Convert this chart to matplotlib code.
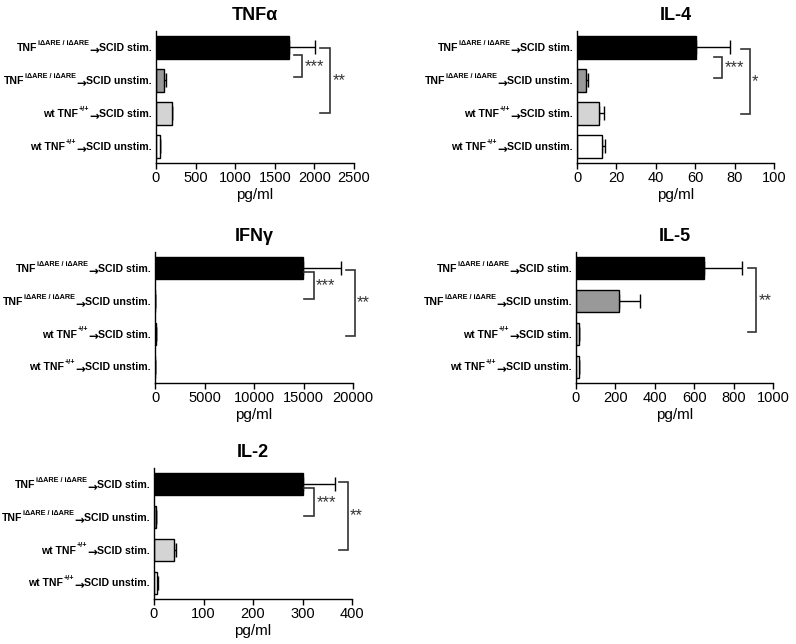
import matplotlib
matplotlib.use("Agg")
import matplotlib.pyplot as plt
import numpy as np

plt.rcParams['font.family'] = ['Liberation Sans', 'DejaVu Sans']

# category labels: prefix, superscript, suffix (joined with an arrow)
cat_prefix = ['TNF', 'TNF', 'wt TNF', 'wt TNF']
cat_sup = ['iΔARE / iΔARE', 'iΔARE / iΔARE', '+/+', '+/+']
cat_suffix = ['SCID stim.', 'SCID unstim.', 'SCID stim.', 'SCID unstim.']
bar_colors = ['#000000', '#999999', '#d4d4d4', '#ffffff']

titles = ['TNFα', 'IL-4', 'IFNγ', 'IL-5', 'IL-2']

tnf_vals = [1675, 97, 198, 46]
tnf_err = [335, 23, 7, 4]
il4_vals = [60.4, 4.6, 11.3, 12.5]
il4_err = [17.2, 0.9, 2.2, 1.5]
ifn_vals = [14980, 20, 60, 20]
ifn_err = [3820, 0, 0, 0]
il5_vals = [649, 220, 13, 13]
il5_err = [196, 104, 0, 0]
il2_vals = [302, 4, 41, 6.7]
il2_err = [64, 0.5, 2.5, 0.8]

xmaxes = [2500, 100, 20000, 1000, 400]
xticks_list = [
    [0, 500, 1000, 1500, 2000, 2500],
    [0, 20, 40, 60, 80, 100],
    [0, 5000, 10000, 15000, 20000],
    [0, 200, 400, 600, 800, 1000],
    [0, 100, 200, 300, 400],
]

# significance brackets: (x_left, x_right, y_top, y_bottom, label)
tnf_sig = [(1745, 1842, 2.77, 2.10, '***'), (2074, 2200, 2.97, 1.00, '**')]
il4_sig = [(69.6, 73.7, 2.72, 2.07, '***'), (83.0, 87.7, 2.95, 0.98, '*')]
ifn_sig = [(15084, 16027, 2.90, 2.05, '***'), (19327, 20168, 2.95, 0.95, '**')]
il5_sig = [(873, 916, 3.00, 1.06, '**')]
il2_sig = [(303, 323, 2.88, 2.02, '***'), (374, 391, 3.07, 1.00, '**')]

panels = [
    (tnf_vals, tnf_err, tnf_sig),
    (il4_vals, il4_err, il4_sig),
    (ifn_vals, ifn_err, ifn_sig),
    (il5_vals, il5_err, il5_sig),
    (il2_vals, il2_err, il2_sig),
]

W, H = 796, 644
DPI = 100
rects_px = [
    (156, 31, 354, 163),
    (577, 31, 774, 163),
    (155, 252, 353, 383),
    (576, 252, 773, 383),
    (154, 468, 352, 599),
]

fig = plt.figure(figsize=(W / DPI, H / DPI), dpi=DPI)
renderer = fig.canvas.get_renderer()
ypos = np.array([3, 2, 1, 0])

MAIN_FS = 7.6
SUP_FS = 5.2
BASE_DY = -0.36 * MAIN_FS  # baseline offset so caps are centred on the bar


def draw_label(ax, y, prefix, sup, suffix):
    pieces = [
        (suffix, MAIN_FS, BASE_DY, 0.0, 'Liberation Sans'),
        ('→', 8.5, BASE_DY - 2.0, 0.3, 'DejaVu Sans'),
        (sup, SUP_FS, BASE_DY + 4.6, 0.5, 'Liberation Sans'),
        (prefix, MAIN_FS, BASE_DY, 0, 'Liberation Sans'),
    ]
    x = -3.0
    for txt, fs, dy, gap, fam in pieces:
        t = ax.annotate(txt, xy=(0, y), xycoords=('axes fraction', 'data'),
                        xytext=(x, dy), textcoords='offset points',
                        ha='right', va='baseline', fontsize=fs, fontweight='bold',
                        family=fam, annotation_clip=False)
        w = t.get_window_extent(renderer).width * 72.0 / DPI
        x -= w + gap


for i, (vals, errs, sigs) in enumerate(panels):
    x0, y0, x1, y1 = rects_px[i]
    ax = fig.add_axes([x0 / W, 1 - y1 / H, (x1 - x0) / W, (y1 - y0) / H])
    ax.barh(ypos, vals, height=0.67, color=bar_colors, edgecolor='black', linewidth=1.0, zorder=2)
    ax.errorbar(vals, ypos, xerr=[np.zeros(4), errs], fmt='none', ecolor='black',
                elinewidth=1.0, capsize=5, capthick=1.0, zorder=1)
    ax.set_xlim(0, xmaxes[i])
    ax.set_ylim(-0.5, 3.5)
    ax.set_xticks(xticks_list[i])
    ax.set_yticks(ypos)
    ax.set_yticklabels([''] * 4)
    ax.tick_params(axis='y', length=0)
    ax.tick_params(axis='x', labelsize=10.5, length=4, width=1, direction='out', pad=2)
    for s in ['top', 'right']:
        ax.spines[s].set_visible(False)
    for s in ['left', 'bottom']:
        ax.spines[s].set_linewidth(1.0)
    ax.set_xlabel('pg/ml', fontsize=11, labelpad=2)
    ax.set_title(titles[i], fontsize=13, fontweight='bold', pad=8)
    for k in range(4):
        draw_label(ax, ypos[k], cat_prefix[k], cat_sup[k], cat_suffix[k])
    xm = xmaxes[i]
    for (xl, xr, yt, yb, lab) in sigs:
        ax.plot([xl, xr, xr, xl], [yt, yt, yb, yb], color='#333333', lw=1.2,
                clip_on=False, solid_joinstyle='miter')
        ax.text(xr + 0.012 * xm, (yt + yb) / 2, lab, fontsize=12, ha='left', va='center',
                color='#333333')

fig.savefig('out.png', dpi=DPI)
